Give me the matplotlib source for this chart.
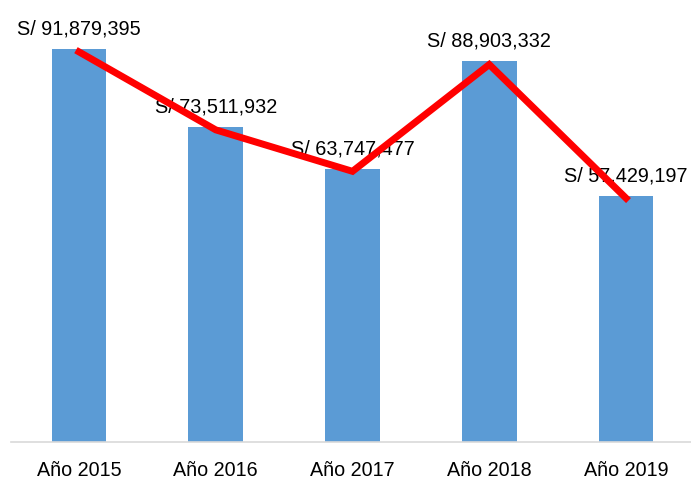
import matplotlib
matplotlib.use("Agg")
import matplotlib.pyplot as plt

categories = ["Año 2015", "Año 2016", "Año 2017", "Año 2018", "Año 2019"]
values = [91879395, 73511932, 63747477, 88903332, 57429197]
labels = ["S/ 91,879,395", "S/ 73,511,932", "S/ 63,747,477", "S/ 88,903,332", "S/ 57,429,197"]

plt.rcParams['font.family'] = ['Liberation Sans', 'DejaVu Sans']

fig = plt.figure(figsize=(6.91, 4.82), dpi=100)
ax = fig.add_axes([10.6/691, 40/482, 683.8/691, 428/482])
x = list(range(len(categories)))
ax.bar(x, values, width=0.4, color="#5B9BD5", zorder=2)
ax.set_xlim(-0.5, len(categories) - 0.5)
ax.set_ylim(0, 100e6)

for xi, v, lab in zip(x, values, labels):
    ax.annotate(lab, (xi, v), xytext=(0, 10.5), textcoords="offset points",
                ha="center", va="baseline", fontsize=14.3, color="black", zorder=3)

ax2 = ax.twinx()
ax2.plot(x, values, color="#FF0000", linewidth=5, zorder=5, solid_joinstyle="miter")
ax2.set_ylim(0, 100.8e6)
ax2.axis("off")

ax.set_xticks(x)
ax.set_xticklabels(categories, fontsize=14.2)
ax.tick_params(axis="x", length=0, pad=14)
ax.set_yticks([])
for s in ["left", "right", "top"]:
    ax.spines[s].set_visible(False)
ax.spines["bottom"].set_color("#D9D9D9")
ax.spines["bottom"].set_linewidth(1.2)

fig.savefig("out.png", dpi=100)
